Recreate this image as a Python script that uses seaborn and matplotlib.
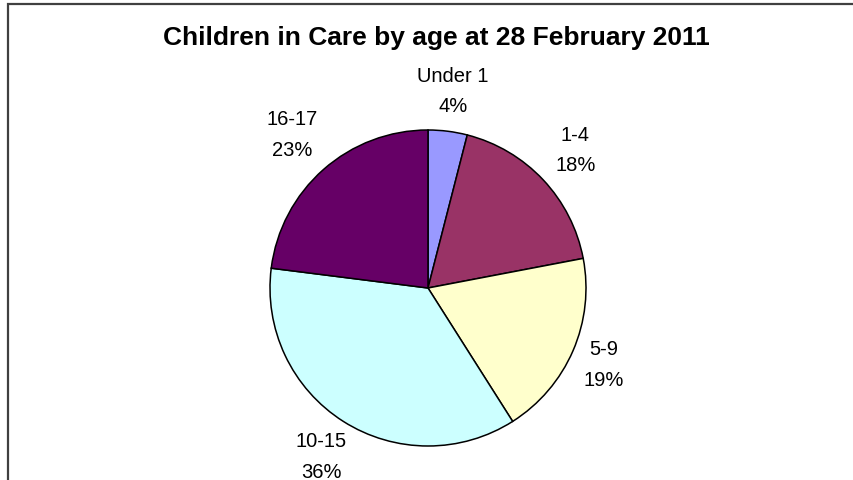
import matplotlib
matplotlib.use("Agg")
import numpy as np
import matplotlib.pyplot as plt
import seaborn as sns
from matplotlib.patches import Rectangle

# data
categories = ["Under 1", "1-4", "5-9", "10-15", "16-17"]
shares = [4, 18, 19, 36, 23]
colors = ["#9999FF", "#993366", "#FFFFCC", "#CCFFFF", "#660066"]
title = "Children in Care by age at 28 February 2011"

# how far out each label sits (in pie radii), Excel-style placement
label_dist = [1.26, 1.28, 1.21, 1.26, 1.30]

sns.set_style("white")
plt.rcParams["font.family"] = ["Liberation Sans", "DejaVu Sans"]
plt.rcParams["text.color"] = "black"

W, H = 854, 481
fig = plt.figure(figsize=(W / 100, H / 100), dpi=100)

# outer chart frame (runs off the right and bottom edges)
fig.patches.append(Rectangle((8 / W, -0.1), 1.2, 1.1 - 5 / H, transform=fig.transFigure,
                             fill=False, edgecolor="#404040", linewidth=1.6))

cx, cy, r = 428, 289, 158
ax = fig.add_axes([(cx - r) / W, (H - cy - r) / H, 2 * r / W, 2 * r / H])

labels = [f"{c}\n{s}%" for c, s in zip(categories, shares)]
wedges, texts = ax.pie(shares, colors=colors, startangle=90, counterclock=False,
                       labels=labels, labeldistance=1.26,
                       wedgeprops=dict(edgecolor="black", linewidth=1.1),
                       textprops=dict(fontsize=14.5, ha="center", va="center",
                                      linespacing=1.75, color="black"))

# move each label out along its wedge's middle angle
for w, t, d in zip(wedges, texts, label_dist):
    ang = np.deg2rad((w.theta1 + w.theta2) / 2)
    t.set_position((d * np.cos(ang), d * np.sin(ang)))

ax.set_xlim(-1, 1)
ax.set_ylim(-1, 1)
ax.set_aspect("equal")
ax.axis("off")

fig.text(436 / W, 1 - 38 / H, title, ha="center", va="center",
         fontsize=19, fontweight="bold")

fig.savefig("out.png", dpi=100)
